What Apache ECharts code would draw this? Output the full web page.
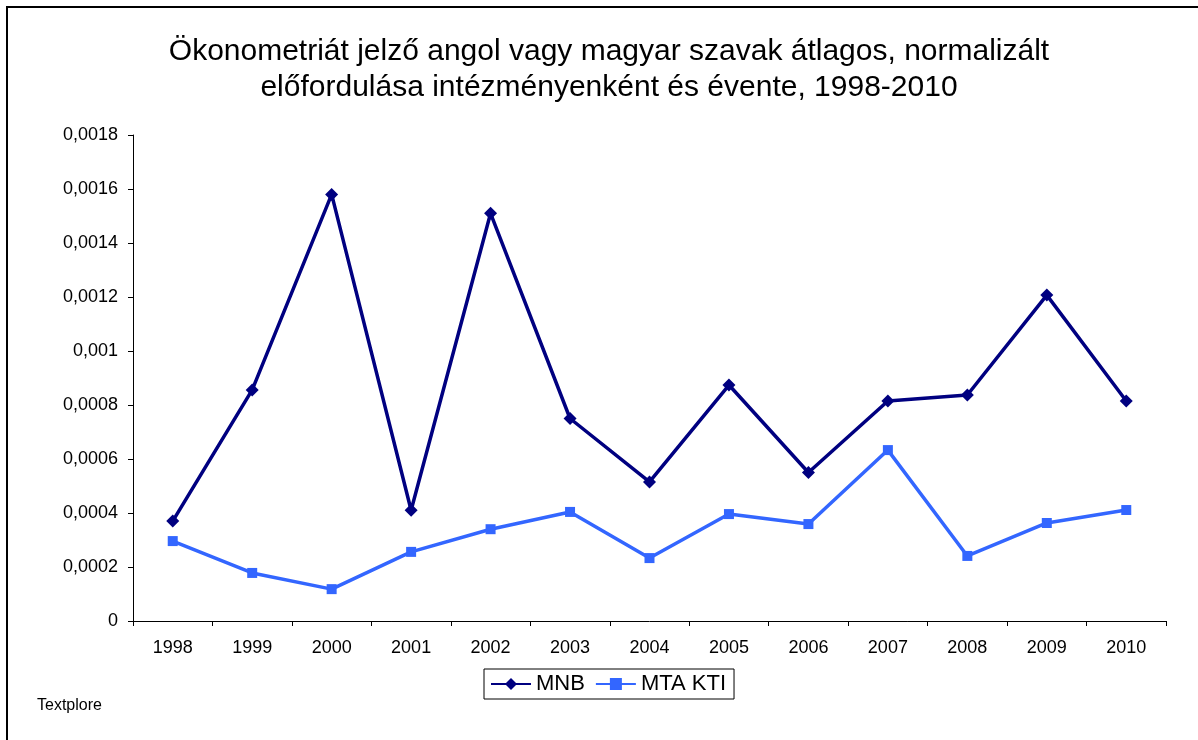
<!DOCTYPE html>
<html>
<head>
<meta charset="utf-8">
<script src="https://cdn.jsdelivr.net/npm/echarts@6/dist/echarts.min.js"></script>
<style>
  html, body { margin: 0; padding: 0; background: #fff; }
  #chart { width: 1198px; height: 740px; }
</style>
</head>
<body>
<div id="chart"></div>
<script>
// évek
var years = ['1998', '1999', '2000', '2001', '2002', '2003', '2004', '2005', '2006', '2007', '2008', '2009', '2010'];
// MNB
var mnbValues = [0.00037, 0.000856, 0.00158, 0.00041, 0.00151, 0.00075, 0.000515, 0.000874, 0.00055, 0.000815, 0.000837, 0.001207, 0.000815];
// MTA KTI
var ktiValues = [0.000296, 0.000178, 0.000118, 0.000256, 0.00034, 0.000404, 0.000233, 0.000396, 0.000359, 0.000633, 0.000241, 0.000363, 0.000411];

var chart = echarts.init(document.getElementById('chart'));

function fmt(v) {
    return String(parseFloat(v.toFixed(6))).replace('.', ',');
}

var option = {
    backgroundColor: '#fff',
    animation: false,
    title: {
        text: 'Ökonometriát jelző angol vagy magyar szavak átlagos, normalizált\nelőfordulása intézményenként és évente, 1998-2010',
        left: 604,
        top: 29,
        textAlign: 'center',
        textStyle: {
            fontFamily: 'Liberation Sans, Arial',
            fontWeight: 'normal',
            fontSize: 30,
            lineHeight: 36,
            color: '#000'
        }
    },
    legend: {
        data: ['MNB', 'MTA KTI'],
        left: 484,
        top: 669,
        padding: [4, 8, 4, 6],
        borderColor: '#000',
        borderWidth: 1,
        itemWidth: 40,
        itemHeight: 15,
        itemGap: 10,
        textStyle: {
            fontFamily: 'Liberation Sans, Arial',
            fontSize: 22,
            color: '#000'
        }
    },
    graphic: [
        {
            type: 'rect',
            shape: { x: 7, y: 7, width: 1300, height: 900 },
            style: { fill: 'none', stroke: '#000', lineWidth: 2 },
            silent: true
        },
        {
            type: 'text',
            left: 37,
            top: 698,
            style: {
                text: 'Textplore',
                fontFamily: 'Liberation Sans, Arial',
                fontSize: 16,
                fill: '#000'
            }
        }
    ],
    grid: {
        left: 133,
        right: 32,
        top: 135,
        bottom: 119
    },
    xAxis: {
        type: 'category',
        data: years,
        boundaryGap: true,
        axisLine: { lineStyle: { color: '#000', width: 1 } },
        axisTick: { show: true, alignWithLabel: false, length: 5, lineStyle: { color: '#000' } },
        axisLabel: {
            color: '#000',
            fontFamily: 'Liberation Sans, Arial',
            fontSize: 18,
            margin: 18
        },
        splitLine: { show: false }
    },
    yAxis: {
        type: 'value',
        min: 0,
        max: 0.0018,
        interval: 0.0002,
        axisLine: { show: true, lineStyle: { color: '#000', width: 1 } },
        axisTick: { show: true, length: 5, lineStyle: { color: '#000' } },
        axisLabel: {
            color: '#000',
            fontFamily: 'Liberation Sans, Arial',
            fontSize: 18,
            margin: 15,
            formatter: fmt
        },
        splitLine: { show: false }
    },
    series: [
        {
            name: 'MNB',
            type: 'line',
            data: mnbValues,
            symbol: 'diamond',
            symbolSize: 13,
            color: '#000080',
            lineStyle: { width: 3.5, color: '#000080' },
            itemStyle: { color: '#000080' }
        },
        {
            name: 'MTA KTI',
            type: 'line',
            data: ktiValues,
            symbol: 'rect',
            symbolSize: 10,
            color: '#3366FF',
            lineStyle: { width: 3.5, color: '#3366FF' },
            itemStyle: { color: '#3366FF' }
        }
    ]
};

chart.setOption(option);
</script>
</body>
</html>
